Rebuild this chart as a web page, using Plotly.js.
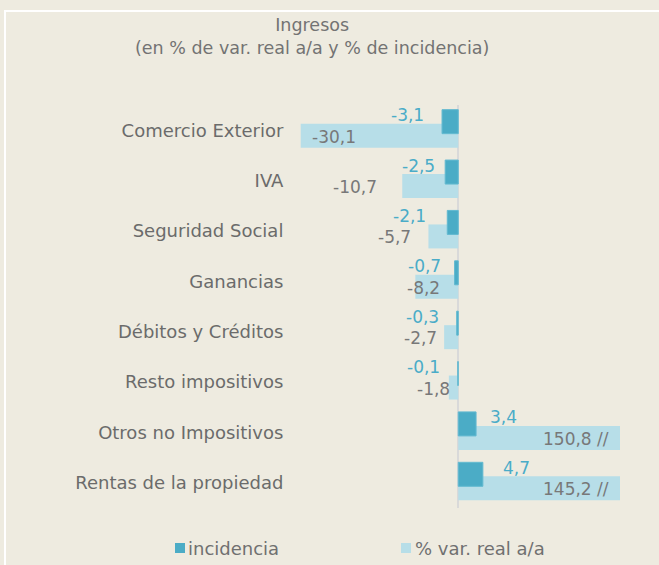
<!DOCTYPE html>
<html>
<head>
<meta charset="utf-8">
<script src="https://cdn.plot.ly/plotly-3.0.1.min.js"></script>
<style>html,body{margin:0;padding:0;background:#EEEBE0;}#chart{width:659px;height:565px;}</style>
</head>
<body>
<div id="chart"></div>
<script>
// ---- data ----
var categories = ["Comercio Exterior", "IVA", "Seguridad Social", "Ganancias",
  "Débitos y Créditos", "Resto impositivos", "Otros no Impositivos", "Rentas de la propiedad"];
var incidencia = [-3.1, -2.5, -2.1, -0.7, -0.3, -0.1, 3.4, 4.7];
var varReal = [-30.1, -10.7, -5.7, -8.2, -2.7, -1.8, 150.8, 145.2];
var legendNames = ["incidencia", "% var. real a/a"];
var titleLines = ["Ingresos", "(en % de var. real a/a y % de incidencia)"];

// ---- styling / label nudges (pixels) ----
var incShift = [-16, -8, -19, -12, -16, -16, 12, 18];
var varShift = [57, -23, -15, 27, -5, 3, 0, 0];
var W = 659, H = 565;
var M = {l: 296, r: 39, t: 105, b: 57};
var xRange = [-31, 30.9];
var pw = W - M.l - M.r, ph = H - M.t - M.b;
function px(x) { return (x - M.l) / pw; }
function py(y) { return (H - M.b - y) / ph; }
function fmt(v) { return v.toFixed(1).replace('.', ','); }

var darkCol = '#4BACC6', lightCol = '#B7DEE8';
var font = 'DejaVu Sans';

var traces = [
  {type: 'bar', orientation: 'h', y: categories, x: varReal, name: legendNames[1],
   marker: {color: lightCol}, width: 0.476, offset: -0.129, showlegend: false, hoverinfo: 'none'},
  {type: 'bar', orientation: 'h', y: categories, x: incidencia, name: legendNames[0],
   marker: {color: darkCol, line: {color: '#62b9d0', width: 1}}, width: 0.476, offset: -0.407,
   showlegend: false, hoverinfo: 'none'}
];

var ann = [];
categories.forEach(function (c, i) {
  var v = incidencia[i];
  ann.push({xref: 'x', yref: 'y', x: v, y: c, text: fmt(v), showarrow: false,
    xanchor: v < 0 ? 'right' : 'left', yanchor: 'middle', xshift: incShift[i], yshift: 15,
    font: {family: font, size: 17, color: '#4AACC8'}});
  var w = varReal[i];
  if (w > xRange[1]) {
    ann.push({xref: 'paper', yref: 'y', x: 1, y: c, text: fmt(w) + ' //', showarrow: false,
      xanchor: 'right', yanchor: 'middle', xshift: -9, yshift: -6.5,
      font: {family: font, size: 17, color: '#787878'}});
  } else {
    ann.push({xref: 'x', yref: 'y', x: w, y: c, text: fmt(w), showarrow: false,
      xanchor: w < 0 ? 'right' : 'left', yanchor: 'middle', xshift: varShift[i], yshift: -6.5,
      font: {family: font, size: 17, color: '#787878'}});
  }
});
// title (two lines, one text)
ann.push({xref: 'paper', yref: 'paper', x: px(312), y: py(37), text: titleLines.join('<br>'),
  showarrow: false, align: 'center', xanchor: 'center', yanchor: 'middle',
  font: {family: font, size: 17.5, color: '#737373'}});
// legend
ann.push({xref: 'paper', yref: 'paper', x: px(186), y: py(548), text: legendNames[0], showarrow: false,
  xanchor: 'left', yanchor: 'middle', font: {family: font, size: 18, color: '#707070'}});
ann.push({xref: 'paper', yref: 'paper', x: px(413), y: py(548), text: legendNames[1], showarrow: false,
  xanchor: 'left', yanchor: 'middle', font: {family: font, size: 18, color: '#707070'}});

var shapes = [
  {type: 'rect', xref: 'paper', yref: 'paper', x0: px(175), x1: px(185), y0: py(553), y1: py(543),
   fillcolor: darkCol, line: {width: 0}},
  {type: 'rect', xref: 'paper', yref: 'paper', x0: px(401), x1: px(411), y0: py(553), y1: py(543),
   fillcolor: lightCol, line: {width: 0}},
  {type: 'line', xref: 'paper', yref: 'paper', x0: px(5), x1: px(5), y0: py(566), y1: py(11),
   line: {color: '#FFFFFF', width: 2}},
  {type: 'line', xref: 'paper', yref: 'paper', x0: px(4), x1: px(660), y0: py(11), y1: py(11),
   line: {color: '#FFFFFF', width: 2}}
];

var layout = {
  width: W, height: H, margin: M,
  paper_bgcolor: '#EEEBE0', plot_bgcolor: '#EEEBE0',
  barmode: 'overlay', showlegend: false,
  xaxis: {range: xRange, showgrid: false, showticklabels: false, ticks: '',
    zeroline: true, zerolinecolor: '#D9D9D9', zerolinewidth: 2, fixedrange: true},
  yaxis: {type: 'category', range: [7.5, -0.5], showgrid: false, zeroline: false,
    ticks: 'outside', ticklen: 8, tickcolor: 'rgba(0,0,0,0)',
    tickfont: {family: font, size: 18, color: '#6B6B6B'}, fixedrange: true},
  annotations: ann, shapes: shapes,
  font: {family: font}
};

Plotly.newPlot('chart', traces, layout, {displayModeBar: false, staticPlot: true});
</script>
</body>
</html>
